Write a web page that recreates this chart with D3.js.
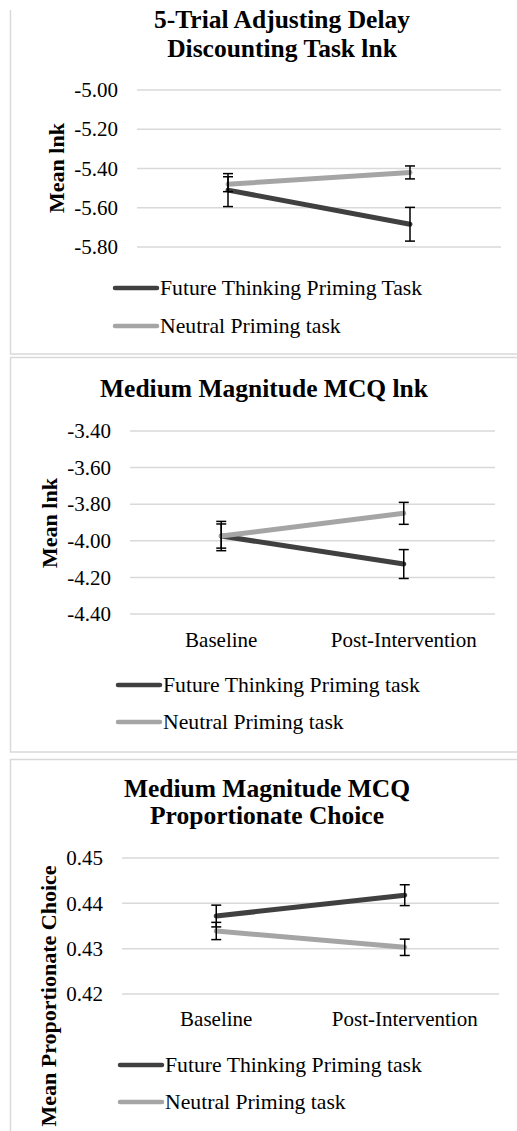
<!DOCTYPE html>
<html>
<head>
<meta charset="utf-8">
<script src="https://cdn.jsdelivr.net/npm/d3@7"></script>
<style>
  body { margin: 0; background: #fff; }
  svg { display: block; }
  text { font-family: "Liberation Serif", "Times New Roman", serif; fill: #000; }
</style>
</head>
<body>
<svg id="chart"></svg>
<script>
const width = 517, height = 1131;

// Shared categories / series
const categories = ['Baseline', 'Post-Intervention'];

// Panel 1: 5-Trial Adjusting Delay Discounting Task lnk
const p1Ticks = [-5.0, -5.2, -5.4, -5.6, -5.8];
const p1Future = [-5.51, -5.684];
const p1FutureErr = [0.084, 0.086];
const p1Neutral = [-5.48, -5.42];
const p1NeutralErr = [0.038, 0.033];

// Panel 2: Medium Magnitude MCQ lnk
const p2Ticks = [-3.4, -3.6, -3.8, -4.0, -4.2, -4.4];
const p2Future = [-3.974, -4.127];
const p2FutureErr = [0.08, 0.079];
const p2Neutral = [-3.974, -3.85];
const p2NeutralErr = [0.066, 0.06];

// Panel 3: Medium Magnitude MCQ Proportionate Choice
const p3Ticks = [0.45, 0.44, 0.43, 0.42];
const p3Future = [0.4372, 0.4418];
const p3FutureErr = [0.0024, 0.0023];
const p3Neutral = [0.4339, 0.4303];
const p3NeutralErr = [0.0019, 0.0018];

const dark = '#404040', light = '#a5a5a5';

const svg = d3.select('#chart').attr('width', width).attr('height', height);

// Panel frames
const frame = svg.append('g').attr('fill', 'none').attr('stroke', '#d9d9d9').attr('stroke-width', 1.5);
frame.append('path').attr('d', 'M10.5,10 V354 H520');
frame.append('path').attr('d', 'M520,357.5 H10.5 V752 H520');
frame.append('path').attr('d', 'M520,759.5 H10.5 V1140');

// Excel style: plain hyphen for negatives
const fmt = v => d3.format('.2f')(v).replace('\u2212', '-');

const drawPanel = cfg => {
  const g = svg.append('g');

  const x = d3.scaleBand().domain(categories).range([cfg.left, cfg.right]);
  const y = d3.scaleLinear().domain(cfg.domain).range([cfg.top, cfg.bottom]);
  const cx = c => x(c) + x.bandwidth() / 2;

  // Title
  const title = g.append('text')
    .attr('text-anchor', 'middle')
    .attr('font-weight', 'bold')
    .attr('font-size', 25.5);
  cfg.title.forEach((t, i) => {
    title.append('tspan').attr('x', cfg.titleX).attr('y', cfg.titleY[i]).text(t);
  });

  // Gridlines
  g.selectAll('.grid')
    .data(cfg.ticks)
    .enter()
    .append('line')
    .attr('x1', cfg.left).attr('x2', cfg.right)
    .attr('y1', d => y(d)).attr('y2', d => y(d))
    .attr('stroke', '#d9d9d9')
    .attr('stroke-width', 1.5);

  // Y axis tick labels
  const yAxis = d3.axisLeft(y).tickValues(cfg.ticks).tickFormat(fmt).tickSize(0).tickPadding(19);
  const ya = g.append('g').attr('transform', `translate(${cfg.left},0)`).call(yAxis);
  ya.select('.domain').remove();
  ya.selectAll('text').attr('font-size', 21).attr('font-family', '"Liberation Serif", serif').attr('fill', '#000');

  // Y axis title
  g.append('text')
    .attr('transform', `translate(${cfg.yLabelX},${cfg.yLabelY}) rotate(-90)`)
    .attr('text-anchor', 'middle')
    .attr('dy', '0.35em')
    .attr('font-weight', 'bold')
    .attr('font-size', 22)
    .text(cfg.yLabel);

  // Category labels
  if (cfg.xLabelY) {
    g.selectAll('.xlab')
      .data(categories)
      .enter()
      .append('text')
      .attr('x', d => cx(d))
      .attr('y', cfg.xLabelY)
      .attr('text-anchor', 'middle')
      .attr('font-size', 21)
      .text(d => d);
  }

  const line = d3.line().x((d, i) => cx(categories[i])).y(d => y(d));

  const series = [
    { name: cfg.legend[0], values: cfg.future, errs: cfg.futureErr, color: dark },
    { name: cfg.legend[1], values: cfg.neutral, errs: cfg.neutralErr, color: light }
  ];
  const order = cfg.neutralOnTop ? [0, 1] : [1, 0];

  order.forEach(k => {
    const s = series[k];
    g.append('path')
      .datum(s.values)
      .attr('d', line)
      .attr('fill', 'none')
      .attr('stroke', s.color)
      .attr('stroke-width', 5)
      .attr('stroke-linecap', 'round');
  });

  // Error bars
  series.forEach(s => {
    s.values.forEach((v, i) => {
      const px = cx(categories[i]);
      const lo = y(v - s.errs[i]), hi = y(v + s.errs[i]);
      const eb = g.append('g').attr('stroke', '#000').attr('stroke-width', 1.5);
      eb.append('line').attr('x1', px).attr('x2', px).attr('y1', lo).attr('y2', hi);
      eb.append('line').attr('x1', px - 5).attr('x2', px + 5).attr('y1', lo).attr('y2', lo);
      eb.append('line').attr('x1', px - 5).attr('x2', px + 5).attr('y1', hi).attr('y2', hi);
    });
  });

  // Legend
  series.forEach((s, i) => {
    const ly = cfg.legendY[i];
    g.append('line')
      .attr('x1', cfg.legendX).attr('x2', cfg.legendX + 42)
      .attr('y1', ly).attr('y2', ly)
      .attr('stroke', s.color)
      .attr('stroke-width', 4.5)
      .attr('stroke-linecap', 'round');
    g.append('text')
      .attr('x', cfg.legendX + 45)
      .attr('y', ly)
      .attr('dy', '0.33em')
      .attr('font-size', 21.7)
      .text(s.name);
  });
};

drawPanel({
  title: ['5-Trial Adjusting Delay', 'Discounting Task lnk'],
  titleX: 282, titleY: [28, 57],
  left: 137, right: 501, top: 90, bottom: 247,
  domain: [-5.0, -5.8], ticks: p1Ticks,
  yLabel: 'Mean lnk', yLabelX: 56, yLabelY: 168,
  future: p1Future, futureErr: p1FutureErr,
  neutral: p1Neutral, neutralErr: p1NeutralErr,
  neutralOnTop: true,
  legend: ['Future Thinking Priming Task', 'Neutral Priming task'],
  legendX: 115, legendY: [288, 326]
});

drawPanel({
  title: ['Medium Magnitude MCQ lnk'],
  titleX: 264, titleY: [397],
  left: 130, right: 495, top: 431, bottom: 614,
  domain: [-3.4, -4.4], ticks: p2Ticks,
  yLabel: 'Mean lnk', yLabelX: 49, yLabelY: 523,
  xLabelY: 647,
  future: p2Future, futureErr: p2FutureErr,
  neutral: p2Neutral, neutralErr: p2NeutralErr,
  neutralOnTop: true,
  legend: ['Future Thinking Priming task', 'Neutral Priming task'],
  legendX: 118, legendY: [685, 722]
});

drawPanel({
  title: ['Medium Magnitude MCQ', 'Proportionate Choice'],
  titleX: 267, titleY: [797, 824],
  left: 122, right: 499, top: 858, bottom: 994,
  domain: [0.45, 0.42], ticks: p3Ticks,
  yLabel: 'Mean Proportionate Choice', yLabelX: 48, yLabelY: 996,
  xLabelY: 1026,
  future: p3Future, futureErr: p3FutureErr,
  neutral: p3Neutral, neutralErr: p3NeutralErr,
  neutralOnTop: false,
  legend: ['Future Thinking Priming task', 'Neutral Priming task'],
  legendX: 120, legendY: [1065, 1102]
});
</script>
</body>
</html>
